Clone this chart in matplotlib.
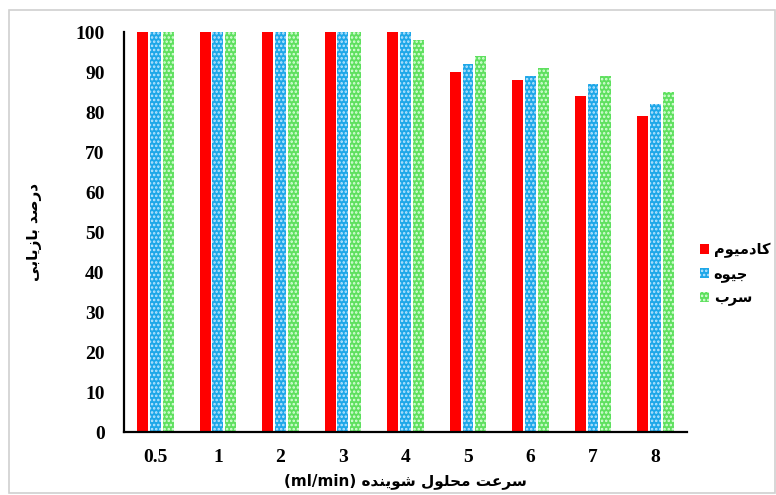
import matplotlib
matplotlib.use('Agg')
import matplotlib.pyplot as plt
import numpy as np
from matplotlib.patches import Rectangle

# flow rates (x categories) and recovery percentages
flow_labels = ['0.5', '1', '2', '3', '4', '5', '6', '7', '8']
cadmium = [100, 100, 100, 100, 100, 90, 88, 84, 79]
mercury = [100, 100, 100, 100, 100, 92, 89, 87, 82]
lead = [100, 100, 100, 100, 98, 94, 91, 89, 85]

# Persian labels written in visual order with presentation forms (no shaping in mpl)
lbl_cadmium = '\uFEE1\uFEEE\uFBFF\uFEE3\uFEA9\uFE8E\uFB90'   # کادمیوم
lbl_mercury = '\uFEE9\uFEEE\uFBFF\uFE9F'                    # جیوه
lbl_lead = '\uFE8F\uFEAE\uFEB3'                             # سرب
ylabel = ('\uFBFD\uFE91\uFE8E\uFBFE\uFEAF\uFE8E\uFE91' + ' '
          + '\uFEAA\uFEBB\uFEAD\uFEA9')                     # درصد بازیابی
xlabel = ('(ml/min) ' + '\uFEE9\uFEAA\uFEE8\uFBFE\uFEEE\uFEB7' + ' '
          + '\uFEDD\uFEEE\uFEE0\uFEA4\uFEE3' + ' '
          + '\uFE96\uFECB\uFEAE\uFEB3')                     # سرعت محلول شوینده (ml/min)

plt.rcParams['hatch.linewidth'] = 1.2

fig = plt.figure(figsize=(7.76, 4.95), dpi=100)
ax = fig.add_axes([0.160, 0.127, 0.725, 0.808])

x = np.arange(len(flow_labels))
w = 0.175
off = 0.205
ax.bar(x - off, cadmium, w, color='#ff0000', label=lbl_cadmium)
ax.bar(x, mercury, w, color='#1ea7e8', edgecolor='#bfe6ff', linewidth=0,
       hatch='....', label=lbl_mercury)
ax.bar(x + off, lead, w, color='#5fe05f', edgecolor='#dcffdc', linewidth=0,
       hatch='....', label=lbl_lead)

ax.set_xlim(-0.5, len(flow_labels) - 0.5)
ax.set_ylim(0, 100)
ax.set_yticks(range(0, 101, 10))
ax.set_xticks(x)
ax.set_xticklabels(flow_labels)
for t in ax.get_xticklabels() + ax.get_yticklabels():
    t.set_fontfamily('Liberation Serif')
    t.set_fontweight('bold')
    t.set_fontsize(14)
ax.tick_params(length=0, pad=12)
ax.tick_params(axis='y', pad=14)

for s in ['top', 'right']:
    ax.spines[s].set_visible(False)
ax.spines['left'].set_linewidth(1.6)
ax.spines['bottom'].set_linewidth(1.6)

ax.set_ylabel(ylabel, fontsize=11, fontweight='bold', family='DejaVu Sans', labelpad=24)
ax.set_xlabel(xlabel, fontsize=11, fontweight='bold', family='DejaVu Sans', labelpad=5)

leg = ax.legend(loc='center left', bbox_to_anchor=(1.0, 0.395), frameon=False,
                prop={'family': 'DejaVu Sans', 'weight': 'bold', 'size': 10.5},
                handlelength=0.65, handleheight=0.65, handletextpad=0.3,
                labelspacing=0.55)

# light grey frame around the picture
fig.patches.append(Rectangle((9 / 776, 2 / 495), 766 / 776, 483 / 495,
                             transform=fig.transFigure, fill=False,
                             edgecolor='#d0d0d0', linewidth=1.2))

fig.savefig('out.png', dpi=100)
